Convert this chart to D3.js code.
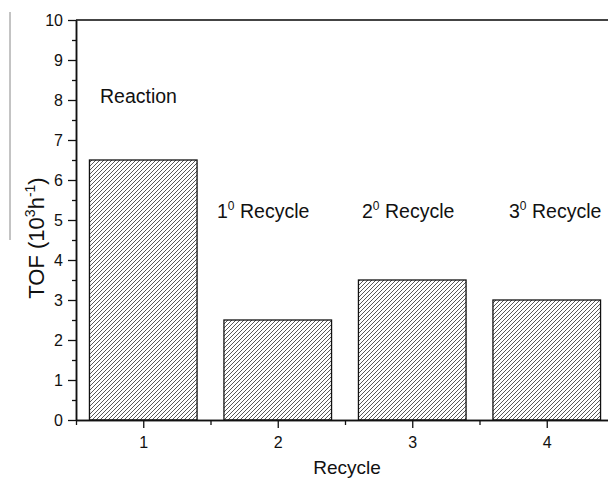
<!DOCTYPE html>
<html><head><meta charset="utf-8">
<script src="https://cdn.jsdelivr.net/npm/d3@7"></script>
<style>body{margin:0;background:#fff}svg{display:block}text{font-family:"Liberation Sans",Arial,sans-serif;fill:#111}</style>
</head><body><svg id="c" width="608" height="478"></svg>
<script>
const categories = [1, 2, 3, 4];
const tofValues = [6.5, 2.5, 3.5, 3.0];
const annotations = ["Reaction", "1", "2", "3"];
const yTicks = [0,1,2,3,4,5,6,7,8,9,10];

const svg = d3.select("#c");
const x = d3.scaleLinear().domain([0.5, 4.5]).range([76, 614]);
const y = d3.scaleLinear().domain([0, 10]).range([420, 20]);
const barW = x(1.3) - x(0.5);

const defs = svg.append("defs");
const pat = defs.append("pattern").attr("id","hatch").attr("patternUnits","userSpaceOnUse")
  .attr("width",4).attr("height",4);
pat.append("path").attr("d","M-1,1 L1,-1 M0,4 L4,0 M3,5 L5,3")
  .attr("stroke","#3a3a3a").attr("stroke-width",0.85);

// stray gray line at left
svg.append("line").attr("x1",10).attr("x2",10).attr("y1",12).attr("y2",240)
  .attr("stroke","#888").attr("stroke-width",1);

// bars
svg.selectAll("rect.bar").data(categories).join("rect").attr("class","bar")
  .attr("x", (d)=> x(d) - barW/2)
  .attr("y", (d,i)=> y(tofValues[i]))
  .attr("width", barW)
  .attr("height", (d,i)=> y(0) - y(tofValues[i]))
  .attr("fill","url(#hatch)").attr("stroke","#111").attr("stroke-width",1.3);

// top frame line
svg.append("line").attr("x1",76).attr("x2",608).attr("y1",y(10)).attr("y2",y(10))
  .attr("stroke","#444").attr("stroke-width",2);

// y axis
const yAx = svg.append("g").attr("transform","translate(76,0)")
  .call(d3.axisLeft(y).tickValues(yTicks).tickSize(8).tickPadding(5).tickSizeOuter(0));
const yMinor = svg.append("g").attr("transform","translate(76,0)")
  .call(d3.axisLeft(y).tickValues(d3.range(0.5,10,1)).tickSize(4).tickFormat("").tickSizeOuter(0));
// x axis
const xAx = svg.append("g").attr("transform","translate(0,420)")
  .call(d3.axisBottom(x).tickValues(categories).tickSize(8).tickPadding(9).tickSizeOuter(0).tickFormat(d3.format("d")));
const xMinor = svg.append("g").attr("transform","translate(0,420)")
  .call(d3.axisBottom(x).tickValues([0.5,1.5,2.5,3.5]).tickSize(5).tickFormat("").tickSizeOuter(0));
[yAx,yMinor,xAx,xMinor].forEach(g=>{
  g.select(".domain").attr("stroke","#111").attr("stroke-width",1.5);
  g.selectAll(".tick line").attr("stroke","#111").attr("stroke-width",1.3);
  g.selectAll("text").attr("font-size",16).attr("font-family","Liberation Sans, Arial, sans-serif").attr("fill","#111");
});
xAx.select(".domain").attr("d","M76,0.5H608");

// axis titles
svg.append("text").attr("x", 347).attr("y", 474).attr("text-anchor","middle")
  .attr("font-size",19).text("Recycle");
const yt = svg.append("text").attr("transform","translate(44,238) rotate(-90)")
  .attr("text-anchor","middle").attr("font-size",22);
yt.append("tspan").text("TOF (10");
yt.append("tspan").attr("font-size",14).attr("dy",-9).text("3");
yt.append("tspan").attr("dy",9).text("h");
yt.append("tspan").attr("font-size",14).attr("dy",-9).text("-1");
yt.append("tspan").attr("dy",9).text(")");

// annotations
const annPos = [[100,103],[217,218],[362,218],[509,218]];
annotations.forEach((a,i)=>{
  const t = svg.append("text").attr("x",annPos[i][0]).attr("y",annPos[i][1]).attr("font-size",19.5);
  if (i===0) { t.text(a); }
  else {
    t.append("tspan").text(a);
    t.append("tspan").attr("font-size",12).attr("dy",-8).text("0");
    t.append("tspan").attr("dy",8).text(" Recycle");
  }
});
</script></body></html>
